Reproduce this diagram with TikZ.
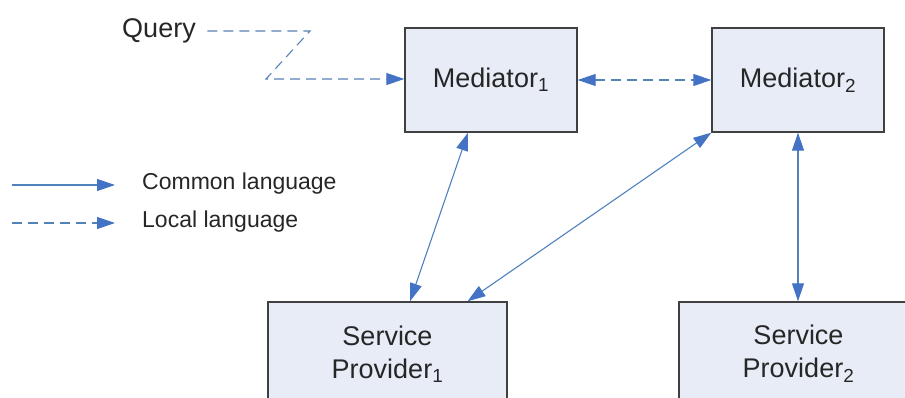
\documentclass[tikz,border=0pt]{standalone}
\usepackage{fontspec}
\setmainfont{Liberation Sans}
\usetikzlibrary{arrows.meta}
\usetikzlibrary{positioning}
\definecolor{boxfill}{RGB}{231,236,247}
\definecolor{boxline}{RGB}{64,64,64}
\definecolor{linkblue}{RGB}{79,129,189}
\definecolor{tipblue}{RGB}{68,114,196}
\tikzset{box/.style = {draw=boxline, fill=boxfill, line width=1.4pt, inner sep=0,
                       align=center, text=black!85, font=\fontsize{27}{33}\selectfont}}
\tikzset{common/.style = {draw=linkblue, line width=1.1pt,
                          >={Triangle[length=18pt, width=12pt, color=tipblue]}}}
\tikzset{local/.style = {common, draw=linkblue!85!gray, dash pattern=on 10pt off 6pt}}
\tikzset{legendtext/.style = {anchor=west, inner sep=0, text=black!85,
                              font=\fontsize{23}{28}\selectfont}}

\begin{document}
\begin{tikzpicture}[x=1pt, y=-1pt]
    \useasboundingbox (0, 0) rectangle (905, 398);
    \clip (0, 0) rectangle (905, 398);

    \node [box, minimum width=172, minimum height=104] (med1) at (491, 80) {Mediator\textsubscript{1}};
    \node [box, minimum width=172, minimum height=104] (med2) at (798, 80) {Mediator\textsubscript{2}};
    \node [box, minimum width=239, minimum height=104] (sp1) at (387.5, 354) {Service\\Provider\textsubscript{1}};
    \node [box, minimum width=239, minimum height=104] (sp2) at (798.5, 354) {Service\\Provider\textsubscript{2}};

    \node [text=black!85, font=\fontsize{27}{33}\selectfont] (query) at (159, 31) {Query};
    \coordinate (qa) at (310, 31);
    \coordinate (qb) at (266, 79);
    \draw [local, ->] ([xshift=8pt]query.east) -- (qa) -- (qb) -- (qb -| med1.west);

    \draw [local, <->] (med1) -- (med2);

    \draw [common, <->] ([xshift=-23pt]med1.south) -- ([xshift=22.5pt]sp1.north);
    \draw [common, <->] (med2.south west) -- ([xshift=80pt]sp1.north);
    \draw [common, <->] (med2.south) -- (med2.south |- sp2.north);

    \coordinate (ca) at (12, 185);
    \coordinate (cb) at (115, 185);
    \draw [common, ->] (ca) -- (cb);
    \node [legendtext] (commonlabel) at (142, 184) {Common language};

    \coordinate (la) at (12, 223);
    \coordinate (lb) at (115, 223);
    \draw [local, ->] (la) -- (lb);
    \node [legendtext] (locallabel) at (142, 222) {Local language};
\end{tikzpicture}
\end{document}
